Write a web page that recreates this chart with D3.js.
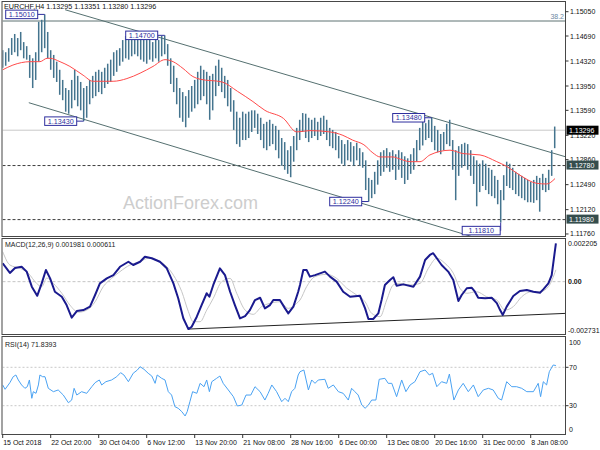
<!DOCTYPE html>
<html><head><meta charset="utf-8">
<script src="https://cdn.jsdelivr.net/npm/d3@7"></script>
<style>body{margin:0;background:#fff}svg{display:block}text{font-family:"Liberation Sans",Arial,sans-serif}</style>
</head><body>
<svg id="c" width="600" height="450"></svg>
<script>
// ---------------- DATA ----------------
const titleText = "EURCHF,H4 1.13295 1.13351 1.13280 1.13296";
const macdTitle = "MACD(12,26,9) 0.001981 0.000611";
const rsiTitle = "RSI(14) 71.8393";
const watermark = "ActionForex.com";

const highs = [1.1448,1.1445,1.1451,1.1466,1.1472,1.1466,1.1475,1.1460,1.1454,1.1441,
1.1436,1.1445,1.1490,1.1493,1.1501,1.1475,1.1448,1.1441,1.1431,1.1419,
1.1404,1.1392,1.1389,1.1404,1.1419,1.1410,1.1401,1.1392,1.1395,1.1404,
1.1410,1.1416,1.1419,1.1416,1.1422,1.1428,1.1434,1.1445,1.1448,1.1451,
1.1463,1.1469,1.1463,1.1472,1.1475,1.1469,1.1472,1.1466,1.1463,1.1469,
1.1460,1.1466,1.1463,1.1469,1.1470,1.1457,1.1436,1.1425,1.1407,1.1392,
1.1386,1.1380,1.1389,1.1395,1.1404,1.1416,1.1425,1.1419,1.1416,1.1410,
1.1413,1.1425,1.1434,1.1422,1.1410,1.1404,1.1392,1.1374,1.1357,1.1348,
1.1357,1.1354,1.1357,1.1359,1.1359,1.1354,1.1348,1.1339,1.1342,1.1345,
1.1339,1.1336,1.1330,1.1318,1.1312,1.1300,1.1306,1.1321,1.1333,1.1345,
1.1355,1.1354,1.1348,1.1345,1.1348,1.1342,1.1348,1.1351,1.1345,1.1333,
1.1330,1.1327,1.1321,1.1315,1.1309,1.1315,1.1312,1.1306,1.1311,1.1303,
1.1297,1.1285,1.1259,1.1256,1.1268,1.1285,1.1297,1.1300,1.1303,1.1297,
1.1300,1.1294,1.1300,1.1297,1.1291,1.1288,1.1294,1.1303,1.1315,1.1333,
1.1343,1.1340,1.1345,1.1348,1.1336,1.1330,1.1324,1.1327,1.1339,1.1345,
1.1315,1.1300,1.1306,1.1309,1.1311,1.1309,1.1300,1.1291,1.1285,1.1280,
1.1285,1.1280,1.1274,1.1271,1.1262,1.1256,1.1241,1.1263,1.1283,1.1280,
1.1274,1.1268,1.1265,1.1262,1.1259,1.1256,1.1253,1.1256,1.1262,1.1259,
1.1265,1.1259,1.1271,1.1300,1.1335];
const lows = [1.1422,1.1425,1.1431,1.1441,1.1445,1.1439,1.1448,1.1436,1.1434,1.1407,
1.1392,1.1404,1.1431,1.1445,1.1451,1.1436,1.1419,1.1407,1.1401,1.1382,
1.1374,1.1357,1.1354,1.1362,1.1374,1.1365,1.1359,1.1343,1.1348,1.1368,
1.1377,1.1380,1.1386,1.1383,1.1392,1.1398,1.1401,1.1410,1.1416,1.1425,
1.1431,1.1436,1.1434,1.1439,1.1442,1.1439,1.1434,1.1431,1.1428,1.1434,
1.1431,1.1436,1.1431,1.1439,1.1442,1.1425,1.1398,1.1386,1.1368,1.1348,
1.1342,1.1334,1.1348,1.1357,1.1362,1.1368,1.1374,1.1380,1.1368,1.1345,
1.1359,1.1380,1.1395,1.1386,1.1377,1.1365,1.1357,1.1330,1.1309,1.1305,
1.1315,1.1315,1.1318,1.1327,1.1333,1.1324,1.1315,1.1303,1.1300,1.1306,
1.1309,1.1300,1.1288,1.1277,1.1271,1.1265,1.1260,1.1283,1.1300,1.1315,
1.1327,1.1318,1.1312,1.1318,1.1321,1.1315,1.1321,1.1324,1.1315,1.1306,
1.1303,1.1300,1.1288,1.1280,1.1277,1.1285,1.1283,1.1277,1.1285,1.1277,
1.1274,1.1241,1.1224,1.1229,1.1235,1.1249,1.1262,1.1268,1.1274,1.1268,
1.1271,1.1256,1.1271,1.1259,1.1250,1.1256,1.1265,1.1271,1.1283,1.1300,
1.1307,1.1315,1.1318,1.1312,1.1300,1.1297,1.1294,1.1300,1.1309,1.1306,
1.1271,1.1226,1.1262,1.1274,1.1277,1.1271,1.1262,1.1250,1.1217,1.1238,
1.1247,1.1241,1.1235,1.1232,1.1229,1.1220,1.1193,1.1226,1.1247,1.1244,
1.1241,1.1235,1.1232,1.1229,1.1226,1.1223,1.1223,1.1222,1.1226,1.1209,
1.1241,1.1238,1.1241,1.1262,1.1303];

const maLine = [[0,1.1419],[3.4,1.1426],[9.1,1.1431],[12.4,1.1431],[14.8,1.1436],[15.8,1.1436],[19.1,1.1431],[22.4,1.1424],[26.8,1.1411],[30.1,1.1402],[36.8,1.1402],[41.4,1.1406],[45.8,1.1414],[50.1,1.1424],[54.1,1.1434],[56.8,1.1431],[60.1,1.1421],[63.4,1.1409],[65.8,1.1405],[73.1,1.1401],[78.3,1.1387],[83.4,1.1372],[87.4,1.1359],[93.6,1.1347],[98,1.1327],[102.4,1.1329],[109.1,1.1327],[113.4,1.1322],[116.6,1.1315],[120.4,1.1308],[123.4,1.1296],[125.8,1.1290],[130.1,1.1290],[132.4,1.1287],[135.8,1.1283],[139.1,1.1283],[142.4,1.1293],[149.1,1.1300],[153.4,1.1295],[159.1,1.1293],[164.7,1.1283],[168,1.1276],[172.4,1.1263],[178,1.1251],[181.3,1.1250],[184.1,1.1258]];

const macd = [[0,0.00095],[2.4,0.00045],[4.1,0.00071],[6.3,0.00077],[8,0.00052],[9.7,-0.00026],[11.5,-0.00073],[13,-0.00009],[14.4,0.00060],[15.8,0.00017],[17.4,-0.00052],[19.7,-0.00078],[21.3,-0.00121],[23,-0.00186],[24.7,-0.00152],[26.9,-0.00147],[29.1,-0.00129],[30.8,-0.00069],[32.4,-0.00009],[34.7,0.00017],[36.9,0.00034],[39.1,0.00077],[41.9,0.00103],[43.5,0.00086],[45.8,0.00103],[47.4,0.00129],[49.7,0.00121],[52.4,0.00103],[54.7,0.00069],[56.9,-0.00009],[58.5,-0.00086],[60.2,-0.00189],[61.9,-0.00245],[63,-0.00233],[64.7,-0.00181],[66.3,-0.00121],[68,-0.00060],[68.9,-0.00078],[70.2,-0.00017],[72.4,0.00069],[74.1,0.00034],[75.8,-0.00052],[77.4,-0.00121],[79.1,-0.00190],[80.8,-0.00178],[82.4,-0.00147],[84.1,-0.00095],[85.8,-0.00083],[87.4,-0.00138],[89.1,-0.00121],[90.2,-0.00095],[92.4,-0.00095],[94.1,-0.00138],[95.2,-0.00164],[96.9,-0.00129],[98.5,-0.00052],[99.1,-0.00017],[100.2,0.00060],[101.3,0.00060],[102.4,0.00026],[104.1,0.00034],[107.4,0.00052],[109.1,0.00026],[111.3,0.00000],[113.5,-0.00052],[115.8,-0.00078],[119.1,-0.00073],[120.8,-0.00138],[121.9,-0.00193],[123.5,-0.00193],[125.2,-0.00164],[126.3,-0.00095],[127.4,-0.00017],[129.1,0.00009],[130.2,0.00023],[131.3,-0.00021],[133.5,-0.00014],[136.9,-0.00026],[139.1,0.00026],[140.8,0.00112],[142.4,0.00138],[143.5,0.00147],[144.7,0.00121],[146.3,0.00086],[148.5,0.00052],[150.2,0.00009],[151.9,-0.00100],[153,-0.00069],[154.7,-0.00034],[156.3,-0.00031],[157.4,-0.00052],[158.5,-0.00083],[160.8,-0.00086],[163,-0.00083],[164.7,-0.00111],[165.8,-0.00147],[166.7,-0.00172],[168,-0.00129],[170.2,-0.00074],[172.4,-0.00048],[174.7,-0.00043],[176.9,-0.00052],[179.1,-0.00057],[180.2,-0.00040],[181.9,-0.00009],[183,0.00034],[184.4,0.001981]];

const signal = [[0,0.00155],[2.4,0.00086],[5.8,0.00069],[8.5,0.00044],[11.3,-0.00009],[13,-0.00026],[14.7,0.00019],[16.9,-0.00009],[19.7,-0.00060],[22.4,-0.00121],[25.2,-0.00158],[28,-0.00147],[30.8,-0.00104],[33.5,-0.00026],[36.3,0.00017],[39.1,0.00052],[42.4,0.00086],[45.8,0.00103],[48.5,0.00121],[51.3,0.00112],[54.1,0.00086],[56.9,0.00034],[59.7,-0.00052],[61.9,-0.00155],[63.5,-0.00207],[65.8,-0.00207],[68,-0.00147],[70.2,-0.00086],[73,0.00000],[75.8,0.00017],[78,-0.00060],[80.8,-0.00147],[83.5,-0.00169],[86.3,-0.00129],[89.1,-0.00112],[92.4,-0.00104],[95.2,-0.00138],[98,-0.00112],[99.1,-0.00095],[101.3,-0.00026],[104.1,0.00026],[108,0.00038],[111.3,0.00017],[114.7,-0.00034],[118,-0.00069],[120.8,-0.00104],[123,-0.00164],[125.8,-0.00181],[128,-0.00095],[130.2,-0.00017],[132.4,-0.00009],[135.8,-0.00017],[139.1,-0.00009],[141.9,0.00069],[144.7,0.00121],[147.4,0.00095],[150.2,0.00044],[152.4,-0.00034],[154.7,-0.00060],[158,-0.00052],[161.3,-0.00078],[164.7,-0.00095],[167.4,-0.00147],[170.2,-0.00129],[173,-0.00078],[176.3,-0.00052],[179.1,-0.00052],[181.9,-0.00026],[184.4,0.000611]];

const rsi = [[0,51.6],[0.8,47.1],[2.4,54.0],[3.5,60.2],[4.4,62.0],[5.2,56.8],[6.3,51.6],[7.4,48.1],[8.2,49.8],[8.9,56.8],[9.7,37.7],[10.2,44.6],[11.1,42.9],[11.9,51.6],[12.4,62.0],[13.3,60.2],[14.1,60.2],[15.2,48.1],[16.9,44.6],[18.5,46.4],[20.2,41.1],[21.9,33.1],[23,35.9],[23.8,48.1],[24.7,41.1],[26.3,44.6],[28,42.9],[29.7,49.8],[30.8,54.0],[32.2,56.8],[33,51.6],[34.4,55.0],[36.3,56.8],[38,60.2],[39.3,64.4],[40.4,62.0],[41.9,55.0],[43.5,63.8],[44.9,67.2],[45.8,70.6],[47.1,67.9],[48.5,63.8],[49.7,60.9],[50.8,53.3],[51.5,62.0],[53,58.5],[54.1,56.8],[55.2,44.6],[56.3,41.1],[57.4,29.0],[58.5,27.3],[59.7,23.8],[60.8,19.3],[61.5,23.8],[62.4,34.2],[63.3,44.6],[64.7,42.9],[65.8,53.3],[67.1,49.8],[68,56.8],[68.9,44.6],[69.7,55.0],[71.3,58.5],[72.4,60.9],[73.5,53.3],[75.2,46.4],[76.9,39.4],[78.2,29.7],[79.7,30.7],[81.1,41.1],[82.7,41.1],[84.1,49.8],[85.8,44.6],[87.4,35.9],[88.5,42.9],[89.7,51.6],[91.3,44.6],[93,34.2],[94.1,37.7],[95.2,34.2],[96.3,44.6],[97.4,48.1],[98.5,62.0],[99.1,65.4],[100.4,67.2],[101.9,46.4],[103,56.8],[104.1,53.3],[105.2,56.8],[107.4,57.5],[108.5,48.1],[110.2,51.6],[111.9,44.6],[113.5,42.9],[115.2,35.9],[116.3,48.1],[117.4,44.6],[118.5,41.1],[119.7,30.7],[120.8,27.3],[121.9,30.7],[123,35.9],[124.4,35.9],[125.5,57.5],[127.4,58.5],[128.5,53.3],[129.7,53.3],[131.3,39.4],[133,56.8],[134.4,44.6],[135.8,51.6],[137.4,55.0],[139.1,65.4],[140.8,67.2],[142.2,62.0],[143.3,63.8],[144.7,49.8],[146.3,55.0],[148,53.3],[148.9,63.0],[150.4,35.9],[151.9,46.4],[153.5,53.3],[155.2,44.6],[156.9,51.6],[158.5,39.4],[160.2,46.4],[161.9,48.1],[163.5,46.4],[165.2,37.7],[166.3,35.9],[168,55.0],[169.7,49.8],[171.3,49.8],[173,48.1],[174.7,44.6],[176.9,44.6],[178.5,53.3],[179.3,39.4],[180.2,55.0],[181.3,51.6],[182.2,65.4],[183.5,72.4],[184.4,71.8393]];

const priceTicks = [1.15050,1.14690,1.14320,1.13950,1.13590,1.13220,1.12860,1.12490,1.12120,1.11760];
const timeLabels = ["15 Oct 2018","22 Oct 20:00","30 Oct 04:00","6 Nov 12:00","13 Nov 20:00","21 Nov 08:00","28 Nov 16:00","6 Dec 00:00","13 Dec 08:00","20 Dec 16:00","31 Dec 00:00","8 Jan 08:00"];
const timeLabelIdx = [0,16,32,48,64,80,96,112,128,144,160,176];
const fibLevel = 1.14912, fibText = "38.2";
const lastPrice = 1.13296;
const supportLevels = [1.12780, 1.11980];
const swingLabels = [
  {text:"1.15010", idx:14, price:1.1501},
  {text:"1.14700", idx:54, price:1.1470},
  {text:"1.13430", idx:27, price:1.1343},
  {text:"1.12240", idx:122, price:1.1224},
  {text:"1.13480", idx:143, price:1.1348},
  {text:"1.11810", idx:166, price:1.1181}
];
const channelUpper = [[20.8,1.15079],[187.5,1.12904]];
const channelLower = [[8.7,1.13703],[156.5,1.11720]];
const macdTrend = [[61.9,-0.00245],[187.5,-0.00164]];
const macdTicks = [0.002205, 0, -0.002731];
const macdTickText = ["0.002205","0.00","-0.002731"];
const rsiTicks = [100,70,30,0];
const rsiGuides = [70,30];

// ---------------- SCALES ----------------
const svg = d3.select("#c");
const x = d3.scaleLinear().domain([0,176]).range([2.7,530.7]);
const yP = d3.scaleLinear().domain([1.11730,1.15223]).range([236,0]);
const yM = d3.scaleLinear().domain([-0.002731,0.002205]).range([334.5,239]);
const yR = d3.scaleLinear().domain([0,100]).range([434.5,338.5]);
const LEFT = 2.5, RIGHT = 565.5;
const FONT = 7;

const defs = svg.append("defs");
const clip = (id,y,h)=>defs.append("clipPath").attr("id",id).append("rect").attr("x",LEFT).attr("y",y).attr("width",RIGHT-LEFT).attr("height",h);
clip("cMain",1.5,235); clip("cMacd",238.5,96); clip("cRsi",336.5,98);

// ---------------- MAIN PANEL ----------------
const gm = svg.append("g").attr("clip-path","url(#cMain)");
gm.append("text").attr("x",123).attr("y",208.5).attr("font-size",18).attr("fill","#cdcdcd").text(watermark);

gm.append("line").attr("x1",LEFT).attr("x2",RIGHT).attr("y1",yP(fibLevel)).attr("y2",yP(fibLevel)).attr("stroke","#5e7373").attr("stroke-width",1);
gm.append("line").attr("x1",LEFT).attr("x2",RIGHT).attr("y1",yP(lastPrice)).attr("y2",yP(lastPrice)).attr("stroke","#c8c8c8").attr("stroke-width",1);
supportLevels.forEach(v=>{
  gm.append("line").attr("x1",LEFT).attr("x2",RIGHT).attr("y1",yP(v)+0.5).attr("y2",yP(v)+0.5)
    .attr("stroke","#3c3c3c").attr("stroke-width",1).attr("stroke-dasharray","3,2");
});
gm.append("text").attr("x",564).attr("y",yP(fibLevel)-2).attr("text-anchor","end").attr("font-size",FONT).attr("fill","#6c88a4").text(fibText);

const lineGen = (ys)=>d3.line().x(d=>x(d[0])).y(d=>ys(d[1]));
[channelUpper, channelLower].forEach(c=>{
  gm.append("path").attr("d",lineGen(yP)(c)).attr("fill","none").attr("stroke","#557070").attr("stroke-width",1);
});

const bars = highs.map((h,i)=>({i,h,l:lows[i]}));
gm.selectAll("rect.bar").data(bars).join("rect").attr("class","bar")
  .attr("x",d=>x(d.i)-0.75).attr("width",1.5)
  .attr("y",d=>yP(d.h)).attr("height",d=>Math.max(1,yP(d.l)-yP(d.h)))
  .attr("fill","#44748e");

gm.append("path").attr("d",lineGen(yP).curve(d3.curveMonotoneX)(maLine)).attr("fill","none").attr("stroke","#ff4a4a").attr("stroke-width",1);

// swing labels
swingLabels.forEach((s,k)=>{
  const bx = x(s.idx);
  const elbow = k===5;
  const w = elbow ? 38 : 32, h = 8.5;
  const right = elbow ? bx-0.5 : bx-7;
  const cy = yP(s.price);
  if (elbow) {
    gm.append("path").attr("d",`M${right},${cy}H${bx}V${yP(lows[s.idx])}`).attr("fill","none").attr("stroke","#2e2e9e").attr("stroke-width",1);
  } else {
    gm.append("line").attr("x1",right).attr("x2",bx).attr("y1",cy).attr("y2",cy).attr("stroke","#2e2e9e").attr("stroke-width",1);
  }
  gm.append("rect").attr("x",right-w).attr("y",cy-h/2).attr("width",w).attr("height",h)
    .attr("fill","#fff").attr("stroke","#2e2e9e").attr("stroke-width",1);
  gm.append("text").attr("x",right-w/2).attr("y",cy).attr("dy","0.36em").attr("text-anchor","middle")
    .attr("font-size",7.2).attr("fill","#2e2e9e").text(s.text);
});

svg.append("text").attr("x",4).attr("y",9.3).attr("font-size",7.2).attr("fill","#111").text(titleText);

// ---------------- MACD PANEL ----------------
const gmc = svg.append("g").attr("clip-path","url(#cMacd)");
gmc.append("line").attr("x1",LEFT).attr("x2",RIGHT).attr("y1",yM(0)).attr("y2",yM(0)).attr("stroke","#c4c4c4").attr("stroke-dasharray","3,2");
gmc.append("path").attr("d",lineGen(yM)(macdTrend)).attr("fill","none").attr("stroke","#222").attr("stroke-width",1);
gmc.append("path").attr("d",lineGen(yM).curve(d3.curveMonotoneX)(signal)).attr("fill","none").attr("stroke","#c6c6c6").attr("stroke-width",1);
gmc.append("path").attr("d",lineGen(yM)(macd)).attr("fill","none").attr("stroke","#1a1a8e").attr("stroke-width",2).attr("stroke-linejoin","round");
svg.append("text").attr("x",5).attr("y",247.3).attr("font-size",FONT).attr("fill","#222").text(macdTitle);

// ---------------- RSI PANEL ----------------
const gr = svg.append("g").attr("clip-path","url(#cRsi)");
rsiGuides.forEach(v=>{
  gr.append("line").attr("x1",LEFT).attr("x2",RIGHT).attr("y1",yR(v)).attr("y2",yR(v)).attr("stroke","#c8c8c8").attr("stroke-dasharray","2,2");
});
gr.append("path").attr("d",lineGen(yR)(rsi)).attr("fill","none").attr("stroke","#4aa2f2").attr("stroke-width",1);
svg.append("text").attr("x",5).attr("y",347).attr("font-size",FONT).attr("fill","#222").text(rsiTitle);

// ---------------- FRAMES ----------------
[[1.5,236.5],[238.5,334.5],[336.5,434.5]].forEach(([t,b])=>{
  svg.append("rect").attr("x",LEFT-0.5).attr("y",t).attr("width",RIGHT-LEFT+0.5).attr("height",b-t)
    .attr("fill","none").attr("stroke","#474747").attr("stroke-width",1);
});

// ---------------- RIGHT AXES ----------------
const ax = svg.append("g");
priceTicks.forEach(v=>{
  ax.append("line").attr("x1",RIGHT).attr("x2",RIGHT+3).attr("y1",yP(v)).attr("y2",yP(v)).attr("stroke","#333");
  ax.append("text").attr("x",570).attr("y",yP(v)).attr("dy","0.36em").attr("font-size",FONT).attr("fill","#111").text(v.toFixed(5));
});
const box = (v,fill)=>{
  ax.append("rect").attr("x",RIGHT+1).attr("y",yP(v)-4.5).attr("width",32).attr("height",9).attr("fill",fill);
  ax.append("text").attr("x",569).attr("y",yP(v)).attr("dy","0.36em").attr("font-size",FONT).attr("fill","#fff").text(v.toFixed(5));
};
box(lastPrice,"#000");
supportLevels.forEach(v=>box(v,"#354d4d"));

macdTicks.forEach((v,k)=>{
  const off = k===0 ? 4 : (k===2 ? -4.5 : 0);
  ax.append("text").attr("x",568).attr("y",yM(v)+off).attr("dy","0.36em").attr("font-size",FONT).attr("fill","#111")
    .attr("font-weight", k===1 ? "bold" : null).text(macdTickText[k]);
});
rsiTicks.forEach(v=>{
  const off = v===100 ? 4 : (v===0 ? -5.5 : 0);
  if (v===70||v===30) ax.append("line").attr("x1",RIGHT).attr("x2",RIGHT+3).attr("y1",yR(v)).attr("y2",yR(v)).attr("stroke","#333");
  ax.append("text").attr("x",569).attr("y",yR(v)+off).attr("dy","0.36em").attr("font-size",FONT).attr("fill","#111").text(v);
});

// ---------------- TIME AXIS ----------------
timeLabelIdx.forEach((idx,k)=>{
  const tx = x(idx);
  ax.append("line").attr("x1",tx).attr("x2",tx).attr("y1",434.5).attr("y2",438).attr("stroke","#333");
  ax.append("text").attr("x",tx+0.5).attr("y",444.5).attr("font-size",FONT).attr("fill","#111").text(timeLabels[k]);
});
</script>
</body></html>
